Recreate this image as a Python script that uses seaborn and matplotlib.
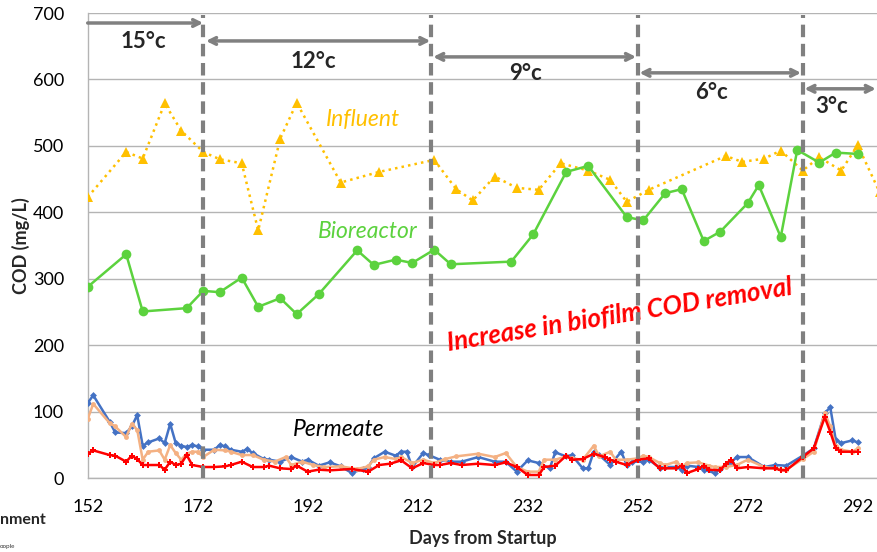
import matplotlib
matplotlib.use("Agg")
import matplotlib.pyplot as plt
import seaborn as sns
import pandas as pd

# Influent COD (mg/L)
influent_days = [152, 159, 162, 166, 169, 173, 176, 180, 183, 187, 190, 198, 205, 215,
                 219, 222, 226, 230, 234, 238, 243, 247, 250, 254, 268, 271, 275, 278,
                 282, 285, 289, 292, 296]
influent_cod = [423, 491, 481, 564, 523, 491, 480, 474, 373, 511, 565, 445, 461, 479,
                435, 418, 454, 437, 434, 474, 463, 449, 416, 434, 485, 476, 481, 493,
                463, 483, 463, 501, 430]

# Bioreactor COD (mg/L)
bioreactor_days = [152, 159, 162, 170, 173, 176, 180, 183, 187, 190, 194, 201, 204, 208,
                   211, 215, 218, 229, 233, 239, 243, 250, 253, 257, 260, 264, 267, 272,
                   274, 278, 281, 285, 288, 292]
bioreactor_cod = [288, 337, 251, 256, 282, 280, 302, 258, 271, 247, 277, 343, 321, 329,
                  324, 344, 322, 326, 367, 461, 470, 393, 388, 429, 435, 357, 371, 414,
                  441, 363, 494, 475, 490, 488]

# Permeate COD (mg/L), three membrane trains
perm_blue_days = [152, 153, 156, 157, 159, 160, 161, 162, 163, 165, 166, 167, 168, 169,
                  170, 171, 172, 173, 175, 176, 177, 178, 180, 181, 182, 184, 185, 187,
                  189, 191, 192, 194, 196, 198, 200, 202, 203, 204, 206, 208, 209, 210,
                  211, 213, 214, 216, 218, 220, 223, 226, 228, 230, 232, 234, 236, 237,
                  239, 240, 242, 243, 244, 245, 247, 249, 250, 251, 253, 254, 256, 257,
                  259, 260, 261, 263, 264, 266, 267, 269, 270, 272, 275, 277, 279, 282,
                  284, 286, 287, 288, 289, 291, 292]
perm_blue_cod = [113, 125, 85, 69, 68, 78, 95, 49, 54, 60, 53, 82, 53, 49,
                 47, 50, 48, 43, 43, 50, 48, 43, 40, 44, 38, 29, 28, 25,
                 32, 25, 28, 19, 24, 18, 8, 14, 17, 30, 40, 34, 40, 40,
                 17, 38, 35, 28, 25, 25, 32, 25, 25, 10, 27, 23, 15, 39,
                 33, 35, 15, 15, 40, 35, 20, 40, 20, 25, 25, 28, 16, 17,
                 17, 13, 19, 17, 13, 8, 14, 24, 32, 32, 17, 20, 19, 34,
                 45, 98, 107, 58, 53, 57, 54]

perm_peach_days = [152, 153, 156, 157, 159, 160, 161, 162, 163, 165, 166, 167, 168, 169,
                   170, 171, 172, 173, 175, 177, 178, 180, 182, 184, 186, 188, 189, 191,
                   193, 195, 198, 201, 203, 204, 206, 208, 209, 211, 213, 215, 217, 219,
                   223, 226, 228, 230, 232, 234, 235, 237, 239, 240, 242, 244, 245, 247,
                   248, 250, 252, 253, 254, 256, 257, 259, 260, 261, 263, 265, 266, 268,
                   270, 272, 275, 277, 279, 282, 284, 286, 287, 288, 289, 291, 292]
perm_peach_cod = [89, 112, 83, 78, 62, 82, 73, 28, 40, 42, 28, 50, 38, 28,
                  37, 40, 40, 32, 43, 42, 40, 35, 35, 28, 25, 32, 20, 25,
                  20, 17, 18, 14, 18, 28, 32, 29, 32, 23, 28, 23, 29, 33,
                  37, 32, 38, 17, 10, 10, 28, 28, 33, 30, 28, 49, 33, 40,
                  28, 28, 30, 34, 32, 23, 20, 25, 18, 23, 24, 19, 17, 17,
                  20, 28, 17, 15, 13, 29, 40, 99, 78, 48, 43, 40, 45]

perm_red_days = [152, 153, 156, 157, 159, 160, 161, 162, 163, 165, 166, 167, 168, 169,
                 170, 171, 173, 175, 177, 178, 180, 182, 184, 185, 187, 189, 190, 192,
                 194, 196, 200, 203, 205, 207, 209, 211, 213, 215, 216, 218, 220, 223,
                 226, 228, 230, 232, 234, 235, 237, 239, 240, 242, 244, 246, 247, 248,
                 250, 252, 254, 256, 257, 259, 260, 261, 263, 264, 265, 267, 268, 269,
                 270, 272, 275, 277, 278, 279, 282, 284, 286, 287, 288, 289, 291, 292]
perm_red_cod = [37, 42, 35, 34, 25, 34, 29, 20, 20, 20, 13, 25, 20, 22,
                35, 20, 17, 17, 18, 20, 25, 17, 17, 19, 15, 14, 19, 10,
                13, 12, 14, 10, 20, 22, 27, 15, 23, 20, 20, 23, 20, 22,
                20, 24, 17, 5, 5, 17, 19, 34, 28, 29, 37, 32, 28, 25,
                20, 28, 30, 15, 15, 15, 19, 8, 14, 19, 13, 12, 22, 28,
                15, 17, 15, 15, 12, 12, 32, 45, 92, 70, 45, 40, 40, 40]

# Temperature phases: boundaries (days) and labels
phase_bounds = [173, 214.5, 252, 282]
phase_labels = ["15°c", "12°c", "9°c", "6°c", "3°c"]

x_ticks = [152, 172, 192, 212, 232, 252, 272, 292]
y_ticks = [0, 100, 200, 300, 400, 500, 600, 700]

sns.set_theme(style="white")
plt.rcParams["font.family"] = ["Lato", "DejaVu Sans"]

fig = plt.figure(figsize=(8.77, 5.52), dpi=100)
ax = fig.add_axes([0.1, 0.1335, 0.9, 0.8429])

grid_c = "#B4B4B4"
for yv in y_ticks:
    ax.axhline(yv, color=grid_c, lw=1.0, zorder=0)

def series(days, vals):
    return pd.DataFrame({"day": days, "cod": vals})

sns.lineplot(data=series(influent_days, influent_cod), x="day", y="cod", ax=ax,
             color="#FFC000", linestyle=":", lw=1.8, marker="^", markersize=7,
             markeredgewidth=0, estimator=None, sort=False, zorder=3)
sns.lineplot(data=series(bioreactor_days, bioreactor_cod), x="day", y="cod", ax=ax,
             color="#5CD23E", lw=1.8, marker="o", markersize=7,
             markeredgewidth=0, estimator=None, sort=False, zorder=4)
sns.lineplot(data=series(perm_blue_days, perm_blue_cod), x="day", y="cod", ax=ax,
             color="#4472C4", lw=1.8, marker="D", markersize=3.5,
             markeredgewidth=0, estimator=None, sort=False, zorder=3)
sns.lineplot(data=series(perm_peach_days, perm_peach_cod), x="day", y="cod", ax=ax,
             color="#F4B183", lw=1.8, marker="o", markersize=3.5,
             markeredgewidth=0, estimator=None, sort=False, zorder=4)
sns.lineplot(data=series(perm_red_days, perm_red_cod), x="day", y="cod", ax=ax,
             color="#FF0000", lw=1.8, marker="P", markersize=4.5,
             markeredgewidth=0, estimator=None, sort=False, zorder=5)

ax.set_xlim(152, 295.5)
ax.set_ylim(0, 700)
ax.set_xticks(x_ticks)
ax.set_yticks(y_ticks)
ax.tick_params(axis="both", labelsize=13, colors="#404040", labelcolor="black",
               direction="out", length=5, width=1)
ax.tick_params(axis="x", pad=10, color=grid_c)
ax.tick_params(axis="y", pad=12, color=grid_c)
for s in ["top", "right"]:
    ax.spines[s].set_visible(False)
for s in ["left", "bottom"]:
    ax.spines[s].set_color(grid_c)
    ax.spines[s].set_linewidth(1.0)

ax.set_xlabel("Days from Startup", fontsize=13, fontweight="bold", labelpad=11)
ax.set_ylabel("COD (mg/L)", fontsize=13, fontweight="bold", labelpad=2)

# Phase boundaries
for b in phase_bounds:
    ax.plot([b, b], [0, 697], color="#808080", lw=3, ls=(0, (3, 1.6)), zorder=6)

# Phase arrows and temperature labels
arrow_spans = [(152, 173, 685, "->"), (173.5, 214.3, 658, "<->"),
               (214.8, 251.7, 634, "<->"), (252.3, 281.7, 610, "<->"),
               (282.3, 295.3, 586, "<->")]
label_pos = [(162.1, 657), (193.0, 627), (231.6, 609), (265.5, 581), (287.3, 560)]
for (x0, x1, yv, style), (lx, ly), txt in zip(arrow_spans, label_pos, phase_labels):
    ax.annotate("", xy=(x1, yv), xytext=(x0, yv),
                arrowprops=dict(arrowstyle=style, color="#808080", lw=2.5,
                                mutation_scale=12, shrinkA=0, shrinkB=0),
                annotation_clip=False)
    ax.text(lx, ly, txt, fontsize=16, fontweight="bold", ha="center", va="center")

ax.text(202, 540, "Influent", color="#FFC000", fontsize=16.5, style="italic",
        ha="center", va="center")
ax.text(203, 372, "Bioreactor", color="#5CD23E", fontsize=16.5, style="italic",
        ha="center", va="center")
ax.text(197.7, 73, "Permeate", color="black", fontsize=16.5, style="italic",
        ha="center", va="center")
ax.text(248.8, 246, "Increase in biofilm COD removal", color="#FF0000", fontsize=18.5,
        style="italic", fontweight="bold", rotation=9.3, ha="center", va="center",
        rotation_mode="anchor")

fig.text(0.0, 0.058, "nment", fontsize=11.5, fontweight="bold", ha="left", va="center")
fig.text(0.0, 0.01, "oople", fontsize=4.5, ha="left", va="center", color="#333333")

fig.savefig("out.png", dpi=100)
